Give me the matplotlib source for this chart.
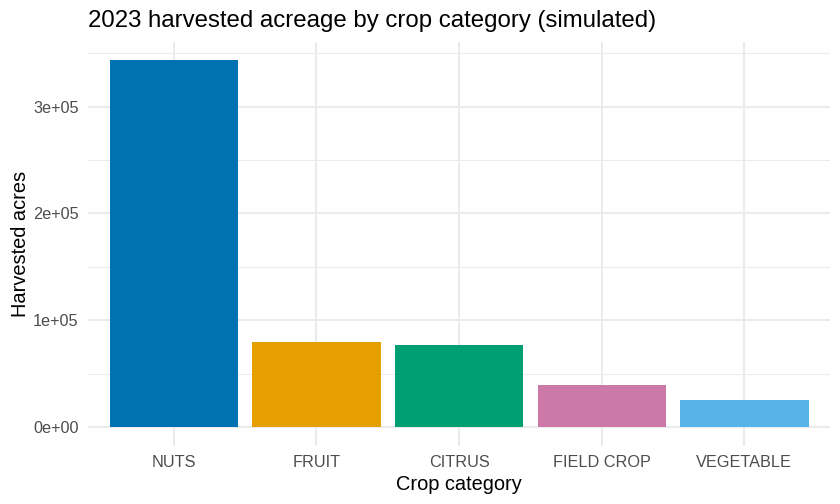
import matplotlib
matplotlib.use("Agg")
import matplotlib.pyplot as plt

categorias = ["NUTS", "FRUIT", "CITRUS", "FIELD CROP", "VEGETABLE"]
acres = [343600, 79800, 77000, 39600, 25500]
cores = ["#0072B2", "#E69F00", "#009E73", "#CC79A7", "#56B4E9"]
yticks = [0, 100000, 200000, 300000]
yticklabels = ["0e+00", "1e+05", "2e+05", "3e+05"]
yminor = [50000, 150000, 250000, 350000]

plt.rcParams["font.family"] = ["Liberation Sans", "DejaVu Sans"]

fig = plt.figure(figsize=(8.4, 5.04), dpi=100)
ax = fig.add_axes([0.105, 0.1157, 0.883, 0.8018])

x = list(range(len(categorias)))
ax.bar(x, acres, width=0.9, color=cores, zorder=2)

ax.set_xlim(-0.6, len(categorias) - 0.4)
topo = max(acres)
ax.set_ylim(-0.05 * topo, 1.05 * topo)

ax.set_xticks(x)
ax.set_xticklabels(categorias)
ax.set_yticks(yticks)
ax.set_yticklabels(yticklabels)
ax.set_yticks(yminor, minor=True)

ax.grid(True, which="major", color="#EBEBEB", linewidth=1.5, zorder=0)
ax.grid(True, which="minor", axis="y", color="#EBEBEB", linewidth=0.75, zorder=0)
ax.set_axisbelow(True)

for s in ax.spines.values():
    s.set_visible(False)
ax.tick_params(which="both", length=0)
ax.tick_params(axis="both", labelsize=11.7, labelcolor="#4D4D4D", pad=7)

ax.set_xlabel("Crop category", fontsize=14.4, color="black", labelpad=3.5)
ax.set_ylabel("Harvested acres", fontsize=14.4, color="black", labelpad=2)
fig.text(0.105, 0.958, "2023 harvested acreage by crop category (simulated)",
         fontsize=17.3, color="black", ha="left", va="center")

fig.savefig("out.png", dpi=100)
